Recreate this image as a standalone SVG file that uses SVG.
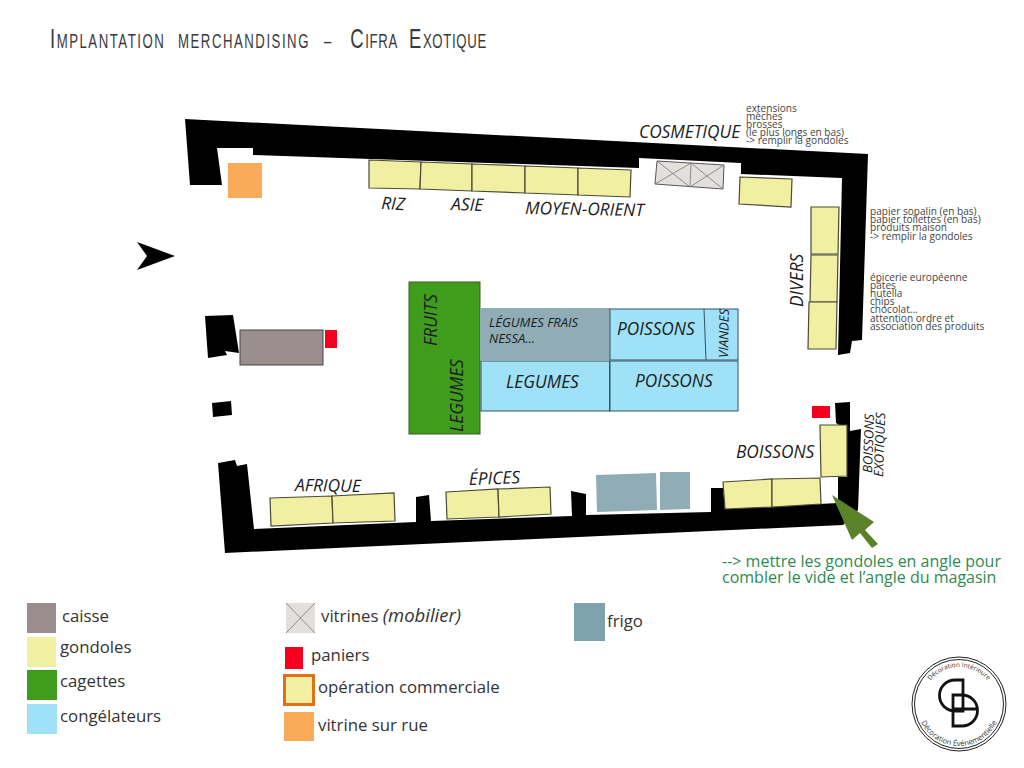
<svg xmlns="http://www.w3.org/2000/svg" xmlns:xlink="http://www.w3.org/1999/xlink" width="1024" height="768" viewBox="0 0 1024 768">
<style>
text{font-family:"Open Sans","Noto Sans","Liberation Sans",sans-serif}
.w{fill:#000}
.g{fill:#f1f0a2;stroke:#4a4a38;stroke-width:1.2}
.v{fill:#e3dfdc;stroke:#55555a;stroke-width:1}
.vx{fill:none;stroke:#77777a;stroke-width:.8}
.f{fill:#90adb6}
.c{fill:#9fe1f6;stroke:#2f5468;stroke-width:1}
.r{fill:#f5001e}
.o{fill:#f9ab5a}
.l{font-style:italic;font-size:17.3px;fill:#1c1c1c}
.m{font-style:italic;font-size:13px;fill:#1c1c1c}
.s{font-size:10.100px;fill:#444}
.k{font-size:16.800px;fill:#333}
.gt{font-size:16px;fill:#2f8a50}
.lg{fill:#333}
</style>
<defs>
<path id="arcTop" d="M922 704A37 37 0 0 1 996 704"/>
<path id="arcBot" d="M917 704A42 42 0 0 0 1001 704"/>
</defs>
<rect width="1024" height="768" fill="#fff"/>
<text id="title" transform="translate(50 48) scale(.66 1)" y="0" font-size="20" fill="#3a3a3e" style="font-family:'Liberation Sans',sans-serif;letter-spacing:2.300px"><tspan x="0" font-size="28">I</tspan><tspan>MPLANTATION</tspan> <tspan x="194">MERCHANDISING</tspan> <tspan x="415">–</tspan> <tspan x="455" font-size="28">C</tspan><tspan style="letter-spacing:1px">IFRA</tspan> <tspan x="544" font-size="28">E</tspan><tspan style="letter-spacing:1px">XOTIQUE</tspan></text>

<g id="walls">
<polygon class="w" points="185,119 868,154 862,340 852,341 850,353 838,355 842,178 741,174 741,163 639,158 639,168 253,155 253,148 217,148 222,185 190,185"/>
<polygon class="w" points="218,463 235,460 237,466 247,464 254,529 416,522 416,497 429,495 431,521 572,516 571,491 586,494 586,515 711,512 711,488 723,488 725,509 838,503 838,477 847,477 847,430 836,423 835,403 850,402 850,431 861,429 858,510 843,525 225,553"/>
<polygon class="w" points="205,316 233,315 239,353 225,351 227,355 208,358"/>
<polygon class="w" points="212,403 231,401 232,415 213,417"/>
</g>
<polygon id="entree" class="w" points="137,242 175,256 137,270 147,256"/>
<rect id="vitrine-rue" class="o" x="228" y="163" width="34" height="35"/>

<g id="gondoles-haut">
<polygon class="g" points="369,160 421,162 420,189 369,188"/>
<polygon class="g" points="421,162 472,164 472,191 420,189"/>
<polygon class="g" points="472,164 525,166 525,193 472,191"/>
<polygon class="g" points="525,166 578,168 578,195 525,193"/>
<polygon class="g" points="578,168 631,170 630,197 578,195"/>
</g>
<g id="vitrines">
<polygon class="v" points="657,161 724,165 723,189 655,184"/>
<path class="vx" d="M691,163 690,187M657,161 690,187M691,163 655,184M691,163 723,189M724,165 690,187"/>
</g>
<polygon id="gondole-cosmetique" class="g" points="740,177 792,179 791,207 739,204"/>
<g id="gondoles-divers">
<polygon class="g" points="811,207 839,207 838,254 811,254"/>
<polygon class="g" points="811,255 838,255 837,302 810,302"/>
<polygon class="g" points="809,302 837,302 836,349 808,349"/>
</g>

<g id="centre">
<rect x="409" y="282" width="71" height="152" fill="#3f9c1c" stroke="#3a5a30" stroke-width="1"/>
<rect class="f" x="480" y="308" width="130" height="52"/>
<rect class="c" x="610" y="309" width="128" height="51"/>
<path d="M704,309 706,360" stroke="#2f5468" stroke-width="1" fill="none"/>
<rect class="c" x="481" y="361" width="128.500" height="50"/>
<rect class="c" x="610" y="361" width="128" height="50"/>
</g>

<g id="caisse">
<rect x="240" y="330" width="83" height="35" fill="#9a8e8e" stroke="#444" stroke-width="1"/>
<rect class="r" x="325" y="330" width="12" height="18"/>
</g>

<g id="gondoles-bas">
<polygon class="g" points="270,498 332,496 333,523 271,526"/>
<polygon class="g" points="332,496 394,493 395,521 333,523"/>
<polygon class="g" points="446,492 498,489 499,517 447,519"/>
<polygon class="g" points="498,489 550,487 551,514 499,517"/>
<polygon class="g" points="723,482 772,479 772,507 725,509"/>
<polygon class="g" points="772,479 820,478 821,504 772,507"/>
<polygon class="g" points="820,425 847,425 847,476 821,477"/>
</g>
<g id="frigos">
<polygon class="f" points="596,475 656,473 657,510 597,512"/>
<polygon class="f" points="660,472 690,472 690,509 660,510"/>
</g>
<rect id="paniers-boissons" class="r" x="812" y="406" width="18" height="12"/>
<polygon id="fleche" fill="#5a8228" points="832,495 874,522 865,530 878,544 872,548 860,533 852,540"/>

<g id="labels">
<text class="l" transform="translate(381 209) rotate(3)">RIZ</text>
<text class="l" transform="translate(451 210) rotate(2)">ASIE</text>
<text class="l" transform="translate(525 214) rotate(1)">MOYEN-ORIENT</text>
<text class="l" x="639" y="138">COSMETIQUE</text>
<text class="m" x="489" y="327">LÉGUMES FRAIS</text>
<text class="m" x="489" y="343">NESSA...</text>
<text class="l" x="617" y="335">POISSONS</text>
<text class="l" x="506" y="388">LEGUMES</text>
<text class="l" x="635" y="387">POISSONS</text>
<text class="m" transform="translate(728 358) rotate(-89)">VIANDES</text>
<text class="l" transform="translate(437 346) rotate(-90)">FRUITS</text>
<text class="l" transform="translate(463 432) rotate(-90)">LEGUMES</text>
<text class="l" transform="translate(803 307) rotate(-90)">DIVERS</text>
<text class="l" transform="translate(295 491) rotate(1)">AFRIQUE</text>
<text class="l" transform="translate(469 485) rotate(-2)">ÉPICES</text>
<text class="l" x="736" y="458">BOISSONS</text>
<text class="m" transform="translate(872 473) rotate(-88)">BOISSONS</text>
<text class="m" transform="translate(883 477) rotate(-88)">EXOTIQUES</text>
</g>

<g id="notes">
<text class="s" x="746" y="112">extensions</text>
<text class="s" x="746" y="120">mèches</text>
<text class="s" x="746" y="128">brosses</text>
<text class="s" x="746" y="136">(le plus longs en bas)</text>
<text class="s" x="746" y="144">-&gt; remplir la gondoles</text>
<text class="s" x="870" y="215">papier sopalin (en bas)</text>
<text class="s" x="870" y="223">papier toilettes (en bas)</text>
<text class="s" x="870" y="231">produits maison</text>
<text class="s" x="870" y="240">-&gt; remplir la gondoles</text>
<text class="s" x="870" y="281">épicerie européenne</text>
<text class="s" x="870" y="289">pâtes</text>
<text class="s" x="870" y="297">nutella</text>
<text class="s" x="870" y="305">chips</text>
<text class="s" x="870" y="313">chocolat...</text>
<text class="s" x="870" y="322">attention ordre et</text>
<text class="s" x="870" y="330">association des produits</text>
<text class="gt" x="722" y="567">--&gt; mettre les gondoles en angle pour</text>
<text class="gt" x="722" y="583">combler le vide et l’angle du magasin</text>
</g>

<g id="legende">
<rect x="27" y="603" width="29" height="30" fill="#9a8e8e"/>
<rect x="27" y="637" width="29" height="30" fill="#f1f0a2"/>
<rect x="27" y="670" width="30" height="30" fill="#3f9c1c"/>
<rect x="27" y="704" width="30" height="30" fill="#9fe1f6"/>
<text class="k" x="62" y="622">caisse</text>
<text class="k" x="60" y="653">gondoles</text>
<text class="k" x="60" y="687">cagettes</text>
<text class="k" x="60" y="722">congélateurs</text>
<rect x="286" y="603" width="29" height="30" fill="#e3dfdc"/>
<path class="vx" d="M286,633 315,603M286,603 315,633"/>
<text class="k" x="321" y="622">vitrines <tspan font-style="italic" font-size="18.500">(mobilier)</tspan></text>
<rect class="r" x="285" y="647" width="18" height="22"/>
<text class="k" x="311" y="661">paniers</text>
<rect x="284.500" y="675.500" width="29" height="29" fill="#f1f0a2" stroke="#e0701a" stroke-width="3"/>
<text class="k" x="318" y="693">opération commerciale</text>
<rect class="o" x="284" y="712" width="30" height="29"/>
<text class="k" x="318" y="731">vitrine sur rue</text>
<rect x="574" y="603" width="31" height="38" fill="#7fa3ae"/>
<text class="k" x="607" y="627">frigo</text>
</g>

<g id="logo">
<circle cx="959" cy="704" r="47" fill="none" stroke="#222" stroke-width="1"/>
<circle cx="959" cy="704" r="44.500" fill="none" stroke="#222" stroke-width="1"/>
<path d="M963 680V711H955A15.500 15.500 0 0 1 955 680ZM953 695H962A15.500 15.500 0 0 1 962 726H953ZM953 709H977" fill="none" stroke="#111" stroke-width="2.800"/>
<text class="lg" font-size="6.500"><textPath xlink:href="#arcTop" href="#arcTop" startOffset="50%" text-anchor="middle">Décoration Intérieure</textPath></text>
<text class="lg" font-size="7.500"><textPath xlink:href="#arcBot" href="#arcBot" startOffset="50%" text-anchor="middle">Décoration Événementielle</textPath></text>
</g>
</svg>
